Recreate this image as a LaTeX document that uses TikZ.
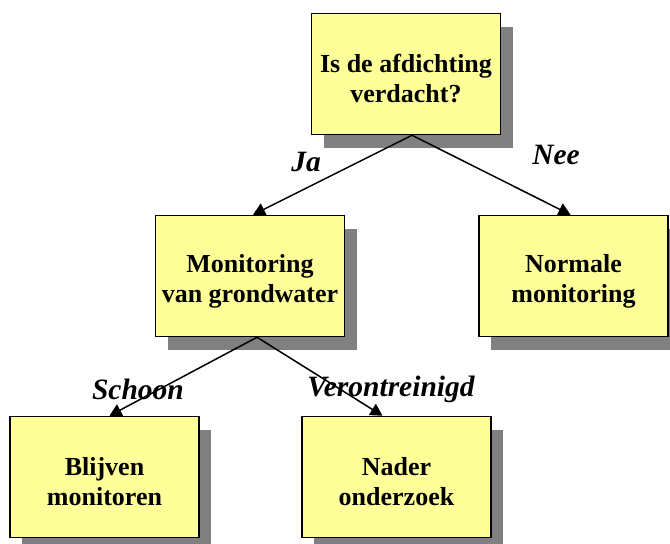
\documentclass[tikz,border=0pt]{standalone}
\usepackage{fontspec}
\setmainfont{Liberation Serif}
\usetikzlibrary{arrows.meta,shadows}
\definecolor{boxyellow}{HTML}{FFFF99}
\definecolor{shadowgray}{HTML}{808080}
\newcommand{\topgap}{\rule{0pt}{28pt}}
\begin{document}
\begin{tikzpicture}[x=1pt,y=-1pt,
  box/.style={draw=black, line width=1.5pt, fill=boxyellow,
    minimum width=189pt, minimum height=121pt, inner sep=0pt, align=center,
    font=\fontsize{26}{30}\selectfont\bfseries,
    drop shadow={shadow xshift=12pt, shadow yshift=-13pt, fill=shadowgray, opacity=1}},
  arr/.style={draw=black, line width=1.5pt, -{Triangle[length=12pt,width=13pt]}},
  lbl/.style={font=\fontsize{29.5}{34}\selectfont\bfseries\itshape, inner sep=0pt}]
\useasboundingbox (0,0) rectangle (670,544);
\node[box] (top) at (406,74) {\topgap Is de afdichting\\verdacht?};
\node[box] (ml) at (250,276) {\topgap Monitoring\\van grondwater};
\node[box] (mr) at (573.5,276) {\topgap Normale\\monitoring};
\node[box] (bl) at (104.5,477) {\topgap Blijven\\monitoren};
\node[box] (br) at (396.5,477) {\topgap Nader\\onderzoek};
\draw[arr] ([xshift=6pt]top.south) -- ([xshift=3pt]ml.north);
\draw[arr] ([xshift=6pt]top.south) -- ([xshift=-3pt]mr.north);
\draw[arr] ([xshift=7pt]ml.south) -- ([xshift=5pt]bl.north);
\draw[arr] ([xshift=7pt]ml.south) -- ([xshift=-14pt]br.north);
\node[lbl] (ja) at (306,162) {Ja};
\node[lbl] (nee) at (556,155) {Nee};
\node[lbl] (schoon) at (138,389) {Schoon};
\node[lbl] (veront) at (391,389) {Verontreinigd};
\end{tikzpicture}
\end{document}
